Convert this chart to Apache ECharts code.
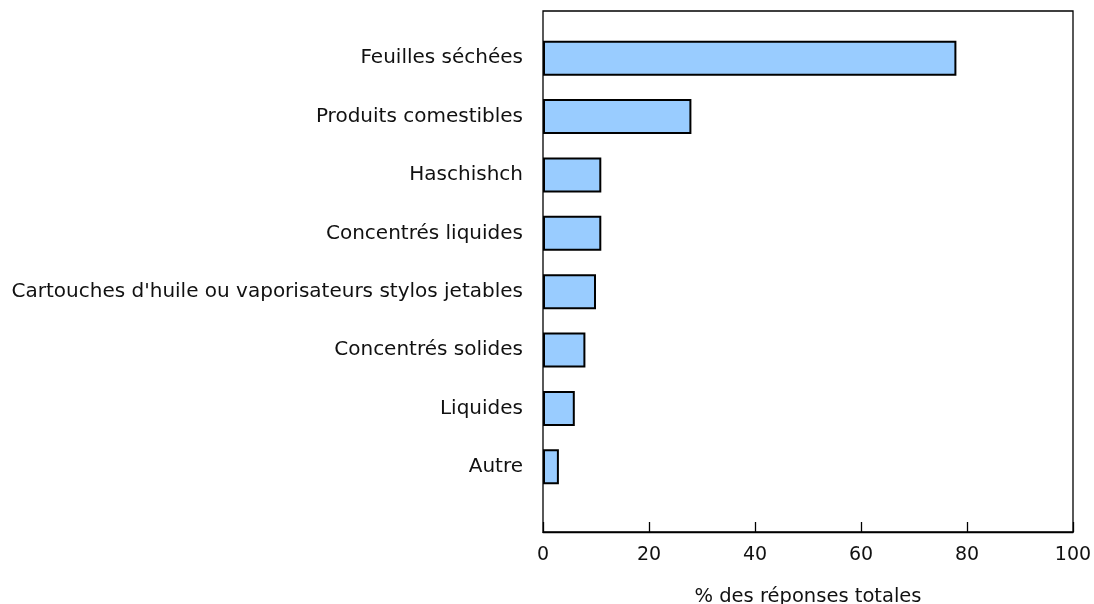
<!DOCTYPE html>
<html>
<head>
<meta charset="utf-8">
<script src="https://cdn.jsdelivr.net/npm/echarts@6/dist/echarts.min.js"></script>
<style>
  html, body { margin: 0; padding: 0; background: #fff; }
  #chart { width: 1094px; height: 604px; }
</style>
</head>
<body>
<div id="chart"></div>
<script>
// categories top to bottom
const categories = [
  'Feuilles séchées',
  'Produits comestibles',
  'Haschishch',
  'Concentrés liquides',
  "Cartouches d'huile ou vaporisateurs stylos jetables",
  'Concentrés solides',
  'Liquides',
  'Autre'
]
const values = [78, 28, 11, 11, 10, 8, 6, 3]
const xTicks = [0, 20, 40, 60, 80, 100]

const font = 'DejaVu Sans, Verdana, sans-serif'
const chart = echarts.init(document.getElementById('chart'))

chart.setOption({
  animation: false,
  grid: [
    // outer frame with the value axis
    { left: 543, right: 21, top: 11, bottom: 72, outerBoundsMode: 'none',
      show: true, borderColor: '#000', borderWidth: 1.3 },
    // inner grid for the bars
    { left: 543, right: 21, top: 29, height: 467, outerBoundsMode: 'none' }
  ],
  xAxis: [
    {
      gridIndex: 0,
      type: 'value',
      min: xTicks[0],
      max: xTicks[xTicks.length - 1],
      interval: 20,
      axisLine: { show: true, lineStyle: { color: '#000', width: 1.3 } },
      axisTick: { show: true, inside: true, length: 10, lineStyle: { color: '#000', width: 1.3 } },
      axisLabel: { color: '#111', fontSize: 19, fontFamily: font, margin: 14 },
      splitLine: { show: false },
      name: '% des réponses totales',
      nameLocation: 'middle',
      nameGap: 55,
      nameTextStyle: { color: '#111', fontSize: 19.5, fontFamily: font }
    },
    {
      gridIndex: 1,
      type: 'value',
      min: xTicks[0],
      max: xTicks[xTicks.length - 1],
      show: false
    }
  ],
  yAxis: [
    { gridIndex: 0, type: 'value', show: false },
    {
      gridIndex: 1,
      type: 'category',
      data: categories,
      inverse: true,
      axisLine: { show: false },
      axisTick: { show: false },
      axisLabel: { color: '#111', fontSize: 20, fontFamily: font, margin: 20 }
    }
  ],
  series: [{
    type: 'bar',
    xAxisIndex: 1,
    yAxisIndex: 1,
    data: values,
    barWidth: 35,
    itemStyle: { color: '#99CCFF', borderColor: '#000', borderWidth: 2 }
  }]
})
</script>
</body>
</html>
